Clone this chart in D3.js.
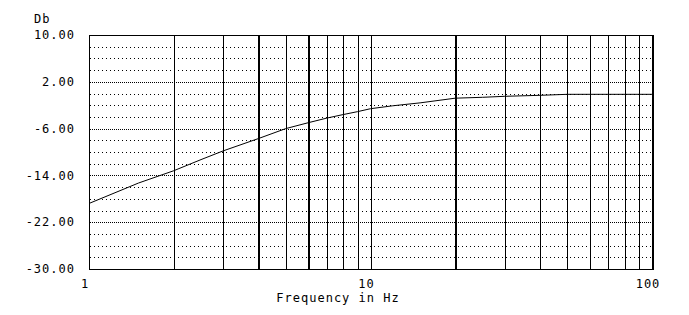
<!DOCTYPE html>
<html>
<head>
<meta charset="utf-8">
<title>Frequency response</title>
<script src="https://d3js.org/d3.v7.min.js"></script>
<style>
body { margin: 0; background: #fff; }
text { font-family: "DejaVu Sans Mono", monospace; font-size: 12px; fill: #000; }
.grid line { shape-rendering: crispEdges; }
</style>
</head>
<body>
<script>
// response curve
var freqs = [1, 1.5, 2, 2.5, 3, 4, 5, 6, 7, 8, 9, 10, 12, 15, 20, 25, 30, 40, 50, 70, 100];
var dbValues = [-18.8, -15.3, -13.2, -11.3, -9.8, -7.7, -6.0, -5.0, -4.2, -3.6, -3.1, -2.6, -2.1, -1.6, -0.8, -0.65, -0.48, -0.31, -0.14, -0.14, -0.14];

var yLabels = [10, 2, -6, -14, -22, -30];
var yMinor = d3.range(-30, 10.01, 2);
var xLabels = [1, 10, 100];
var xGrid = [2, 3, 4, 5, 6, 7, 8, 9, 10, 20, 30, 40, 50, 60, 70, 80, 90];
var xHeavy = [4, 6, 20];

var width = 689, height = 315;
var margin = {top: 35, right: 37, bottom: 46, left: 89};

var svg = d3.select("body").append("svg")
    .attr("width", width)
    .attr("height", height);

var x = d3.scaleLog().domain([1, 100]).range([margin.left, width - margin.right]);
var y = d3.scaleLinear().domain([-30, 10]).range([height - margin.bottom, margin.top]);

var grid = svg.append("g").attr("class", "grid");

// horizontal dotted rows
grid.selectAll(".hrow")
    .data(yMinor.filter(function(d) { return d > -30 && d < 10; }))
    .enter().append("line")
    .attr("x1", x(1) + 1)
    .attr("x2", x(100))
    .attr("y1", function(d) { return Math.round(y(d)) + 0.5; })
    .attr("y2", function(d) { return Math.round(y(d)) + 0.5; })
    .attr("stroke", "#000")
    .attr("stroke-width", 1)
    .attr("stroke-dasharray", function(d) { return yLabels.indexOf(d) >= 0 ? "1,1" : "1,3"; });

// vertical lines
grid.selectAll(".vline")
    .data(xGrid)
    .enter().append("line")
    .attr("x1", function(d) { return Math.round(x(d)) + 0.5; })
    .attr("x2", function(d) { return Math.round(x(d)) + 0.5; })
    .attr("y1", y(10))
    .attr("y2", y(-30))
    .attr("stroke", "#000")
    .attr("stroke-width", function(d) { return xHeavy.indexOf(d) >= 0 ? 2 : 1; });

// frame
grid.append("line").attr("x1", x(1)).attr("x2", x(100) + 1)
    .attr("y1", y(10) + 0.5).attr("y2", y(10) + 0.5).attr("stroke", "#000");
grid.append("line").attr("x1", x(1)).attr("x2", x(100) + 1)
    .attr("y1", y(-30) + 0.5).attr("y2", y(-30) + 0.5).attr("stroke", "#000");
grid.append("line").attr("x1", x(1) + 0.5).attr("x2", x(1) + 0.5)
    .attr("y1", y(10)).attr("y2", y(-30) + 1).attr("stroke", "#000");
grid.append("line").attr("x1", x(100) + 1).attr("x2", x(100) + 1)
    .attr("y1", y(10)).attr("y2", y(-30) + 1).attr("stroke", "#000").attr("stroke-width", 2);

// curve
var line = d3.line()
    .x(function(d, i) { return x(freqs[i]); })
    .y(function(d) { return y(d); });

svg.append("path")
    .datum(dbValues)
    .attr("d", line)
    .attr("fill", "none")
    .attr("stroke", "#000")
    .attr("stroke-width", 1);

// y labels
svg.selectAll(".ylab")
    .data(yLabels)
    .enter().append("text")
    .attr("x", x(1) - 14)
    .attr("y", function(d) { return y(d); })
    .attr("dy", "0.35em")
    .attr("text-anchor", "end")
    .style("letter-spacing", "1px")
    .text(function(d) { return d3.format(".2f")(d).replace("\u2212", "-"); });

svg.append("text")
    .attr("x", 34)
    .attr("y", 23)
    .style("letter-spacing", "1px")
    .text("Db");

// x labels
svg.selectAll(".xlab")
    .data(xLabels)
    .enter().append("text")
    .attr("x", function(d) { return x(d) - 4; })
    .attr("y", 288)
    .attr("text-anchor", "middle")
    .style("letter-spacing", "1px")
    .text(function(d) { return d; });

svg.append("text")
    .attr("x", 338)
    .attr("y", 302)
    .attr("text-anchor", "middle")
    .style("letter-spacing", "1px")
    .text("Frequency in Hz");
</script>
</body>
</html>
